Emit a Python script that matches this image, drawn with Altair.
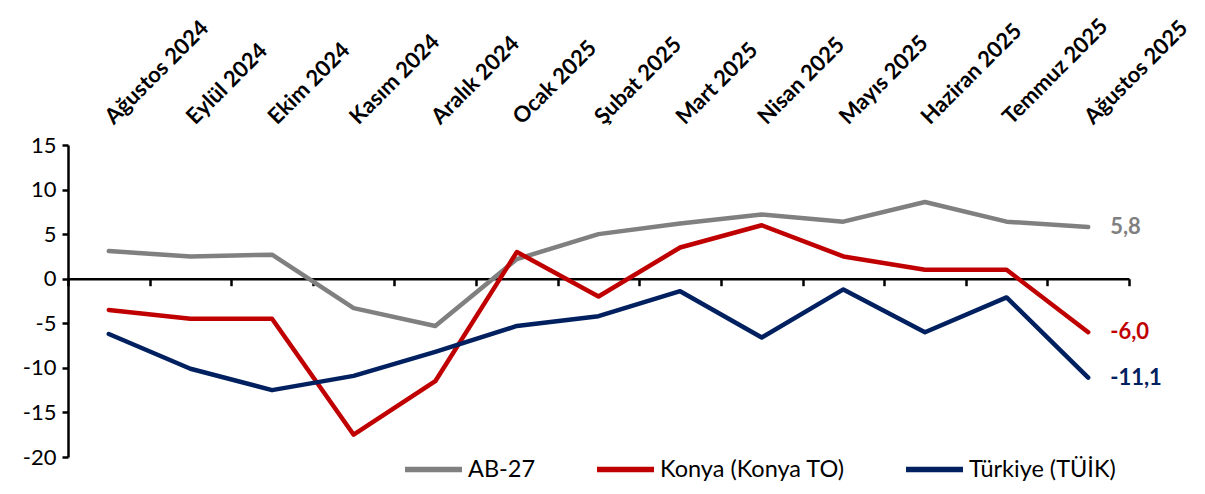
import altair as alt
import pandas as pd

months = ["Ağustos 2024", "Eylül 2024", "Ekim 2024", "Kasım 2024", "Aralık 2024",
          "Ocak 2025", "Şubat 2025", "Mart 2025", "Nisan 2025", "Mayıs 2025",
          "Haziran 2025", "Temmuz 2025", "Ağustos 2025"]
ab27 = [3.1, 2.5, 2.7, -3.3, -5.3, 2.2, 5.0, 6.2, 7.2, 6.4, 8.6, 6.4, 5.8]
konya = [-3.5, -4.5, -4.5, -17.5, -11.5, 3.0, -2.0, 3.5, 6.0, 2.5, 1.0, 1.0, -6.0]
turkiye = [-6.2, -10.1, -12.5, -10.9, -8.2, -5.3, -4.2, -1.4, -6.6, -1.2, -6.0, -2.1, -11.1]
series = ["AB-27", "Konya (Konya TO)", "Türkiye (TÜİK)"]
colors = ["#808080", "#C00000", "#002060"]

rows = []
for name, vals in zip(series, [ab27, konya, turkiye]):
    for m, v in zip(months, vals):
        rows.append({"month": m, "series": name, "value": v})
df = pd.DataFrame(rows)

FONT = "Lato"
xscale = alt.Scale(type="band", paddingInner=0, paddingOuter=0)
yscale = alt.Scale(domain=[-20, 15], nice=False, zero=False)
color = alt.Color("series:N", scale=alt.Scale(domain=series, range=colors),
                  sort=series,
                  legend=alt.Legend(title=None, orient="none", direction="horizontal",
                                    legendX=334, legendY=293, symbolType="stroke",
                                    symbolStrokeWidth=5.5, symbolSize=3249,
                                    labelFontSize=23.5, labelFont=FONT, labelColor="black",
                                    labelLimit=0, labelOffset=3, columnPadding=50))

yaxis = alt.Axis(values=[-20, -15, -10, -5, 0, 5, 10, 15], grid=False,
                 domainColor="black", domainWidth=2.5, tickColor="black",
                 tickWidth=2.5, tickSize=6, labelFontSize=22, labelFont=FONT,
                 labelColor="black", labelPadding=6, title=None,
                 labelExpr="toString(datum.value)")

lines = alt.Chart(df).mark_line(strokeWidth=4.5, strokeCap="round", strokeJoin="round").encode(
    x=alt.X("month:N", sort=months, scale=xscale, bandPosition=0.5,
            axis=alt.Axis(orient="top", labelAngle=-45, labelAlign="left",
                          labelBaseline="middle", labelFontSize=22, labelFont=FONT,
                          labelFontWeight="bold", labelColor="black", domain=False,
                          ticks=False, labelPadding=25, labelLimit=0, title=None)),
    y=alt.Y("value:Q", scale=yscale, axis=yaxis),
    color=color,
)

last = df[df["month"] == months[-1]]
labels = alt.Chart(last).transform_calculate(
    lab="replace(replace(format(datum.value, '.1f'), '.', ','), '\u2212', '-')"
).mark_text(align="left", baseline="middle", dx=22, fontSize=22, font=FONT,
            fontWeight="bold").encode(
    x=alt.X("month:N", sort=months, scale=xscale, bandPosition=0.5,
            axis=alt.Axis(orient="bottom", labels=False, domainColor="black",
                          domainWidth=2.5, tickColor="black", tickWidth=2.5,
                          tickSize=7, tickBand="extent",
                          offset={"expr": "scale('y', 0) - height"}, title=None)),
    y=alt.Y("value:Q", scale=yscale, axis=yaxis),
    text="lab:N",
    color=alt.Color("series:N", scale=alt.Scale(domain=series, range=colors), legend=None),
)

chart = alt.layer(lines, labels).resolve_axis(x="independent").properties(
    width=1061, height=312,
    padding={"left": 60, "top": 137, "right": 68, "bottom": 29},
    autosize=alt.AutoSizeParams(type="none"),
).configure_view(stroke=None)

chart.save("out.html", embed_options={"renderer": "svg", "actions": False})
